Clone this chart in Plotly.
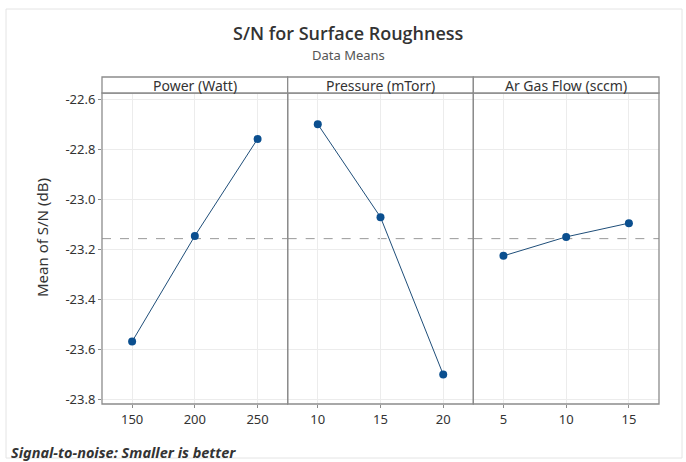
import plotly.graph_objects as go
from plotly.subplots import make_subplots

factors = ["Power (Watt)", "Pressure (mTorr)", "Ar Gas Flow (sccm)"]
power_levels = [150, 200, 250]
power_sn = [-23.570, -23.147, -22.759]
pressure_levels = [10, 15, 20]
pressure_sn = [-22.700, -23.072, -23.702]
argas_levels = [5, 10, 15]
argas_sn = [-23.227, -23.151, -23.096]
overall_mean = -23.158
y_ticks = [-22.6, -22.8, -23.0, -23.2, -23.4, -23.6, -23.8]

levels = [power_levels, pressure_levels, argas_levels]
values = [power_sn, pressure_sn, argas_sn]

FONT = "Noto Sans"
W, H = 686, 462
ML, MR, MT, MB = 102, 27, 93, 58
plot_w = W - ML - MR
plot_h = H - MT - MB
FRAME = "#8c8c8c"


def px(x):
    return (x - ML) / plot_w


def py(y):
    return (H - MB - y) / plot_h


fig = make_subplots(rows=1, cols=3, shared_yaxes=True, horizontal_spacing=0)

for i, (lv, vals) in enumerate(zip(levels, values)):
    col = i + 1
    fig.add_trace(go.Scatter(
        x=lv, y=vals, mode="lines+markers",
        line=dict(color="#1f4e79", width=1),
        marker=dict(color="#0b4f8f", size=8),
        showlegend=False, hoverinfo="skip"), row=1, col=col)
    pad = (lv[-1] - lv[0]) * 0.24
    fig.update_xaxes(range=[lv[0] - pad, lv[-1] + pad], tickvals=lv,
                     showgrid=True, gridcolor="#ececec", gridwidth=1,
                     showline=False,
                     ticks="outside", ticklen=3, tickcolor=FRAME,
                     tickfont=dict(family=FONT, size=13, color="#333333"),
                     zeroline=False, row=1, col=col)
    xref = "x" if col == 1 else f"x{col}"
    fig.add_shape(type="line", xref=f"{xref} domain", yref="y",
                  x0=0, x1=1, y0=overall_mean, y1=overall_mean,
                  line=dict(color="#9a9a9a", width=1, dash="dash"), layer="below")
    dom = fig.layout[f"xaxis{'' if col == 1 else col}"].domain
    fig.add_shape(type="rect", xref="paper", yref="paper",
                  x0=dom[0], x1=dom[1], y0=0, y1=1,
                  line=dict(color=FRAME, width=1.3), fillcolor="rgba(0,0,0,0)")
    fig.add_shape(type="rect", xref="paper", yref="paper",
                  x0=dom[0], x1=dom[1], y0=1, y1=1 + 16 / plot_h,
                  line=dict(color=FRAME, width=1.3), fillcolor="white")
    fig.add_annotation(x=(dom[0] + dom[1]) / 2, y=1 + 8 / plot_h, xref="paper", yref="paper",
                       text=factors[i], showarrow=False, xanchor="center", yanchor="middle",
                       font=dict(family=FONT, size=14, color="#333333"))

fig.update_yaxes(range=[-23.82, -22.575], tickvals=y_ticks,
                 ticktext=[f"{v:.1f}" for v in y_ticks],
                 showgrid=True, gridcolor="#ececec", gridwidth=1,
                 showline=False, zeroline=False,
                 tickfont=dict(family=FONT, size=13, color="#333333"))
fig.update_yaxes(ticks="outside", ticklen=3, tickcolor=FRAME, row=1, col=1)

fig.add_annotation(x=px(42), y=py(238), xref="paper", yref="paper",
                   xanchor="center", yanchor="middle", textangle=-90,
                   text="Mean of S/N (dB)", showarrow=False,
                   font=dict(family=FONT, size=15, color="#333333"))
fig.add_annotation(x=px(348), y=py(33), xref="paper", yref="paper",
                   xanchor="center", yanchor="middle",
                   text="S/N for Surface Roughness", showarrow=False,
                   font=dict(family="Open Sans", size=18, color="#333333", weight=600))
fig.add_annotation(x=px(348), y=py(55), xref="paper", yref="paper",
                   xanchor="center", yanchor="middle",
                   text="Data Means", showarrow=False,
                   font=dict(family=FONT, size=13, color="#555555"))
fig.add_annotation(x=px(9), y=py(452), xref="paper", yref="paper",
                   xanchor="left", yanchor="middle",
                   text="<b><i>Signal-to-noise: Smaller is better</i></b>", showarrow=False,
                   font=dict(family=FONT, size=14.5, color="#333333"))
fig.add_shape(type="rect", xref="paper", yref="paper",
              x0=px(6), x1=px(682), y0=py(458), y1=py(9),
              line=dict(color="#e4e4e4", width=1), layer="below")

fig.update_layout(width=W, height=H, margin=dict(l=ML, r=MR, t=MT, b=MB),
                  paper_bgcolor="white", plot_bgcolor="white",
                  font=dict(family=FONT))
fig.write_html("out.html")
